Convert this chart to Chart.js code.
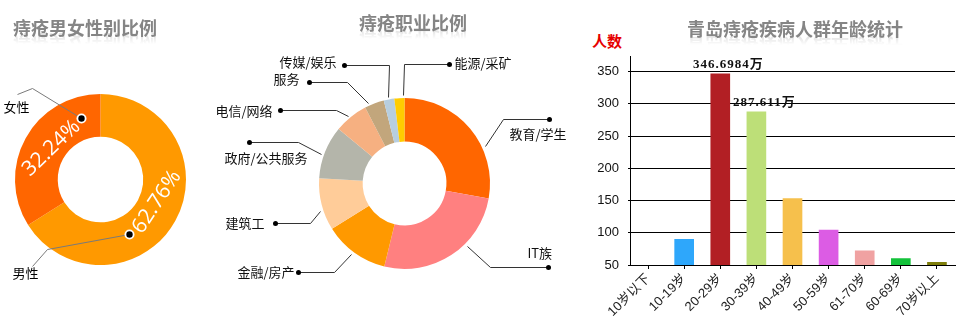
<!DOCTYPE html>
<html lang="zh-CN">
<head>
<meta charset="utf-8">
<title>痔疮人群统计</title>
<script src="https://cdn.jsdelivr.net/npm/chart.js@4.4.1/dist/chart.umd.min.js"></script>
<style>
  html, body { margin: 0; padding: 0; background: #fff; }
  body { position: relative; width: 960px; height: 330px; overflow: hidden; font-family: 'Noto Sans CJK SC', sans-serif; }
  .title {
    position: absolute; font-size: 18px; font-weight: bold; line-height: 20px; color: #858585; white-space: nowrap;
    -webkit-box-reflect: below -4px linear-gradient(transparent 45%, rgba(0, 0, 0, 0.3));
  }
  #unit { position: absolute; left: 592px; top: 31px; font-size: 15px; font-weight: bold; line-height: 20px; color: #e60000; }
  canvas { position: absolute; top: 40px; }
</style>
</head>
<body>
<div class="title" style="left:13px; top:17px;">痔疮男女性别比例</div>
<div class="title" style="left:359px; top:12px;">痔疮职业比例</div>
<div class="title" style="left:687px; top:18px;">青岛痔疮疾病人群年龄统计</div>
<div id="unit">人数</div>
<canvas id="gender-chart" width="200" height="290" style="left:0"></canvas>
<canvas id="job-chart" width="380" height="290" style="left:200px"></canvas>
<canvas id="age-chart" width="380" height="290" style="left:580px"></canvas>

<script>
// ========== 数据 ==========
const genderLabels = ['男性', '女性'];
const genderValues = [62.76, 32.24];
const genderColors = ['#ff9900', '#ff6600'];

const jobLabels = ['教育/学生', 'IT族', '金融/房产', '建筑工', '政府/公共服务', '电信/网络', '服务', '传媒/娱乐', '能源/采矿'];
const jobValues = [27.8, 26.0, 12.3, 9.9, 10.0, 6.4, 3.7, 2.0, 1.9];
const jobColors = ['#ff6600', '#ff8080', '#ff9900', '#ffcc99', '#b4b5aa', '#f6b081', '#c2a67c', '#b7cedf', '#ffcc00'];

const ageLabels = ['10岁以下', '10-19岁', '20-29岁', '30-39岁', '40-49岁', '50-59岁', '61-70岁', '60-69岁', '70岁以上'];
const ageValues = [35, 90, 346.6984, 287.611, 153, 104, 72, 60, 54];
const ageColors = ['#2ea7fb', '#2ea7fb', '#b21f24', '#bddf78', '#f6c04c', '#dc5ce4', '#f0a2a2', '#13c23a', '#7e7e0a'];
const ageTickMin = 50;
const ageTickMax = 373;
const ageTickStep = 50;
const ageValueLabelIndex = [2, 3]; // 顶部标数值的柱

// ========== 引线标注（相对圆心） ==========
const genderCallouts = [
  { t: 0.64, r: 61.5, elbow: [-54, 69], end: [-69, 86], text: [-88, 94], align: 'left' },
  { t: 0.86, r: 64.7, elbow: [-69, -92], end: [-84, -86], text: [-97, -72], align: 'left' }
];
const genderRingText = [
  { t: 0.47, r: 60.6, rotate: -56 },
  { t: 0.53, r: 58.2, rotate: -44 }
];
const jobCallouts = [
  { t: 0.65, elbow: [98, -65], end: [144, -65], text: [105, -49], align: 'left' },
  { t: 0.37, elbow: [85, 83], end: [143, 83], text: [123, 70], align: 'left' },
  { t: 0.53, elbow: [-71, 88], end: [-107, 88], text: [-110, 89], align: 'right' },
  { t: 0.39, elbow: [-95, 39], end: [-130, 39], text: [-140, 40], align: 'right' },
  { t: 0.45, elbow: [-107, -42], end: [-156, -42], text: [-97, -25], align: 'right' },
  { t: 0.45, elbow: [-69, -74], end: [-125, -74], text: [-132, -72], align: 'right' },
  { t: 0.23, elbow: [-58, -102], end: [-96, -102], text: [-105, -104], align: 'right' },
  { t: 0.45, elbow: [-16, -119], end: [-61, -119], text: [-68, -121], align: 'right' },
  { t: 0.87, elbow: [-1, -120], end: [44, -120], text: [50, -120], align: 'left' }
];

const cjkFont = '"Noto Sans CJK SC", sans-serif';

function arcPoint(arc, t, r) {
  const p = arc.getProps(['x', 'y', 'startAngle', 'endAngle', 'outerRadius'], true);
  const a = p.startAngle + (p.endAngle - p.startAngle) * t;
  const rr = r !== undefined ? r : p.outerRadius + 3;
  return { cx: p.x, cy: p.y, x: p.x + Math.cos(a) * rr, y: p.y + Math.sin(a) * rr };
}

function crisp(v) {
  return Math.round(v) + 0.5;
}

// 折线引线 + 圆点 + 文字
function calloutPlugin(id, labels, callouts, style) {
  return {
    id,
    afterDatasetsDraw(chart) {
      const ctx = chart.ctx;
      const arcs = chart.getDatasetMeta(0).data;
      ctx.save();
      ctx.font = style.font;
      ctx.textBaseline = 'middle';
      arcs.forEach((arc, i) => {
        const c = callouts[i];
        const p = arcPoint(arc, c.t, c.r);
        const anchor = [crisp(p.x), crisp(p.y)];
        const elbow = [crisp(p.cx + c.elbow[0]), crisp(p.cy + c.elbow[1])];
        const end = [crisp(p.cx + c.end[0]), crisp(p.cy + c.end[1])];

        ctx.strokeStyle = style.line;
        ctx.lineWidth = 1;
        ctx.beginPath();
        ctx.moveTo(anchor[0], anchor[1]);
        ctx.lineTo(elbow[0], elbow[1]);
        ctx.lineTo(end[0], end[1]);
        ctx.stroke();

        const dot = style.dotAt === 'anchor' ? anchor : end;
        if (style.ring) {
          ctx.fillStyle = '#fff';
          ctx.beginPath();
          ctx.arc(dot[0], dot[1], style.ring, 0, Math.PI * 2);
          ctx.fill();
        }
        ctx.fillStyle = '#000';
        ctx.beginPath();
        ctx.arc(dot[0], dot[1], style.dot, 0, Math.PI * 2);
        ctx.fill();

        ctx.fillStyle = style.color;
        ctx.textAlign = c.align;
        ctx.fillText(labels[i], p.cx + c.text[0], p.cy + c.text[1]);
      });
      ctx.restore();
    }
  };
}

// ========== 性别比例 ==========
function setupGenderChart() {
  const ringText = {
    id: 'ringText',
    afterDatasetsDraw(chart) {
      const ctx = chart.ctx;
      const arcs = chart.getDatasetMeta(0).data;
      ctx.save();
      ctx.font = '21px "Open Sans", sans-serif';
      ctx.fillStyle = '#fff';
      ctx.textAlign = 'center';
      ctx.textBaseline = 'middle';
      arcs.forEach((arc, i) => {
        const s = genderRingText[i];
        const p = arcPoint(arc, s.t, s.r);
        ctx.save();
        ctx.translate(p.x, p.y);
        ctx.rotate(s.rotate * Math.PI / 180);
        ctx.fillText(genderValues[i].toFixed(2) + '%', 0, 0);
        ctx.restore();
      });
      ctx.restore();
    }
  };

  new Chart(document.getElementById('gender-chart'), {
    type: 'doughnut',
    data: {
      labels: genderLabels,
      datasets: [{ data: genderValues, backgroundColor: genderColors, borderWidth: 0 }]
    },
    options: {
      responsive: false,
      animation: false,
      cutout: '50%',
      layout: { padding: { left: 15, right: 14, top: 54, bottom: 65 } },
      plugins: { legend: { display: false }, tooltip: { enabled: false } }
    },
    plugins: [ringText, calloutPlugin('genderCallouts', genderLabels, genderCallouts, {
      font: '13px ' + cjkFont, color: '#000', line: '#7a7a7a', dotAt: 'anchor', dot: 3.2, ring: 5
    })]
  });
}

// ========== 职业比例 ==========
function setupJobChart() {
  new Chart(document.getElementById('job-chart'), {
    type: 'doughnut',
    data: {
      labels: jobLabels,
      datasets: [{ data: jobValues, backgroundColor: jobColors, borderWidth: 0 }]
    },
    options: {
      responsive: false,
      animation: false,
      cutout: '49%',
      layout: { padding: { left: 119, right: 90, top: 58, bottom: 61 } },
      plugins: { legend: { display: false }, tooltip: { enabled: false } }
    },
    plugins: [calloutPlugin('jobCallouts', jobLabels, jobCallouts, {
      font: '13px ' + cjkFont, color: '#111', line: '#333', dotAt: 'end', dot: 2.5
    })]
  });
}

// ========== 年龄分布 ==========
function setupAgeChart() {
  const valueLabels = {
    id: 'valueLabels',
    afterDatasetsDraw(chart) {
      const ctx = chart.ctx;
      const bars = chart.getDatasetMeta(0).data;
      ctx.save();
      ctx.font = 'bold 13px "Liberation Serif", ' + cjkFont;
      ctx.letterSpacing = '1px';
      ctx.fillStyle = '#111';
      ctx.textAlign = 'center';
      ctx.textBaseline = 'bottom';
      ageValueLabelIndex.forEach(i => {
        ctx.fillText(ageValues[i] + '万', bars[i].x + 8, bars[i].y - 3);
      });
      ctx.restore();
    }
  };

  const tickFont = { family: '"Liberation Sans", ' + cjkFont, size: 13 };

  new Chart(document.getElementById('age-chart'), {
    type: 'bar',
    data: {
      labels: ageLabels,
      datasets: [{ data: ageValues, backgroundColor: ageColors, barThickness: 19 }]
    },
    options: {
      responsive: false,
      animation: false,
      layout: { padding: { top: 15, right: 5 } },
      plugins: { legend: { display: false }, tooltip: { enabled: false } },
      scales: {
        x: {
          grid: { drawOnChartArea: false, offset: false, color: '#000', tickLength: 4 },
          border: { color: '#000' },
          ticks: { color: '#222', font: tickFont, minRotation: 45, maxRotation: 45, padding: 2 },
          afterFit: (scale) => { scale.height = 65; }
        },
        y: {
          min: ageTickMin,
          max: ageTickMax,
          grid: { color: '#000', tickLength: 2 },
          border: { color: '#000' },
          ticks: { stepSize: ageTickStep, includeBounds: false, color: '#111', font: tickFont, padding: 9 },
          afterFit: (scale) => { scale.width = 50; }
        }
      }
    },
    plugins: [valueLabels]
  });
}

// ========== 初始化 ==========
document.addEventListener('DOMContentLoaded', () => {
  setupGenderChart();
  setupJobChart();
  setupAgeChart();
});
</script>
</body>
</html>
